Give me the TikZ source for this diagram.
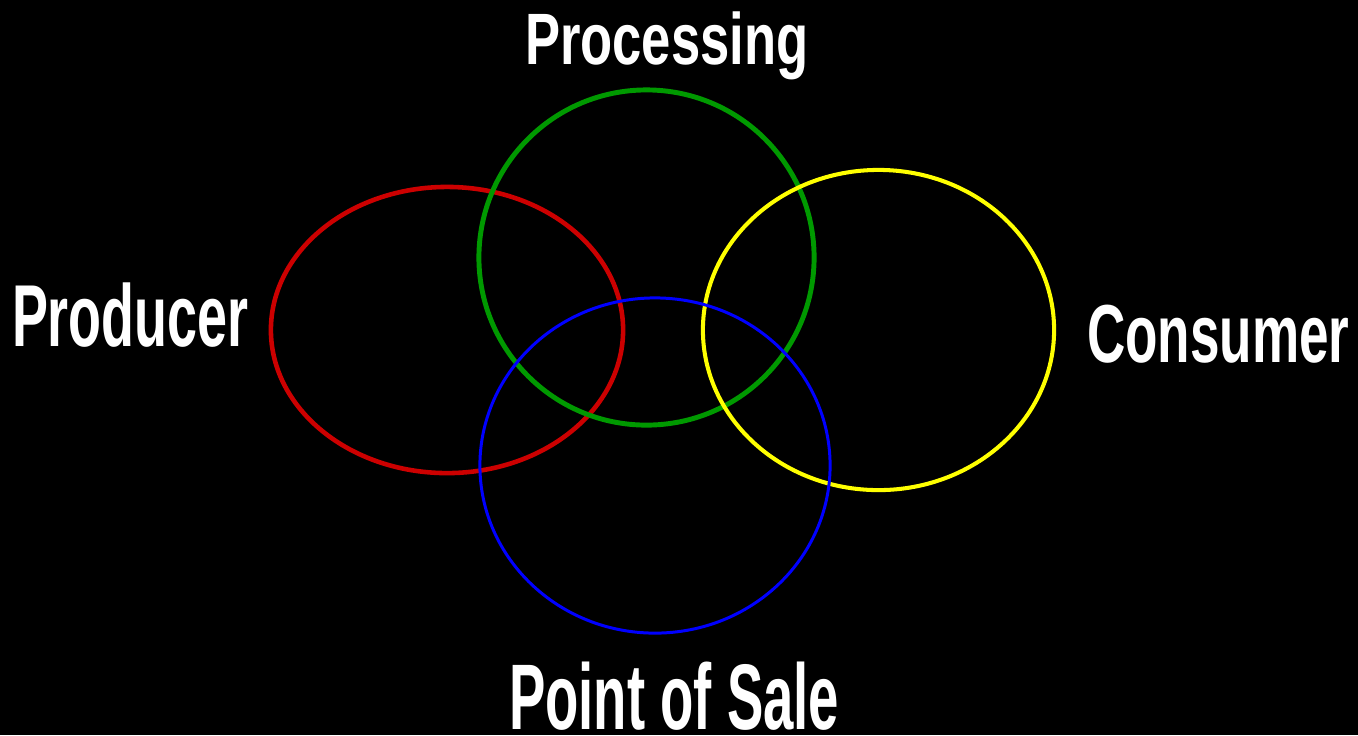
\documentclass[tikz,border=0pt]{standalone}
\usepackage{fontspec}
\setmainfont{Liberation Sans}
\usetikzlibrary{shapes.geometric}
\definecolor{cred}{HTML}{CC0000}
\definecolor{cgreen}{HTML}{009900}
\definecolor{cyellow}{HTML}{FFFF00}
\definecolor{cblue}{HTML}{0000FF}
\begin{document}
\begin{tikzpicture}[x=0.01cm,y=-0.01cm,
  ring/.style={ellipse,inner sep=0pt,outer sep=0pt},
  lbl/.style={text=white,inner sep=0pt,outer sep=0pt,anchor=base west,font=\bfseries}]
\fill[black] (0,0) rectangle (1358,735);
\useasboundingbox (0,0) rectangle (1358,735);
\node[ring,draw=cred,line width=1.3pt,minimum width=3.52cm,minimum height=2.86cm] (producer) at (447,330) {};
\node[ring,draw=cgreen,line width=1.4pt,minimum width=3.35cm,minimum height=3.35cm] (processing) at (646.5,257.5) {};
\node[ring,draw=cyellow,line width=1.15pt,minimum width=3.51cm,minimum height=3.20cm] (consumer) at (878.5,330) {};
\node[ring,draw=cblue,line width=0.85pt,minimum width=3.50cm,minimum height=3.35cm] (pos) at (655,465.5) {};
\node[lbl] (tproc) at (525,64) {\fontsize{20.7}{24}\selectfont\bfseries\scalebox{0.722}[1]{Processing}};
\node[lbl] (tprod) at (12,346) {\fontsize{25}{30}\selectfont\bfseries\scalebox{0.613}[1]{Producer}};
\node[lbl] (tcons) at (1087,362) {\fontsize{23.4}{28}\selectfont\bfseries\scalebox{0.645}[1]{Consumer}};
\node[lbl] (tpos) at (509,729) {\fontsize{26.5}{32}\selectfont\bfseries\scalebox{0.585}[1]{Point of Sale}};
\end{tikzpicture}
\end{document}
